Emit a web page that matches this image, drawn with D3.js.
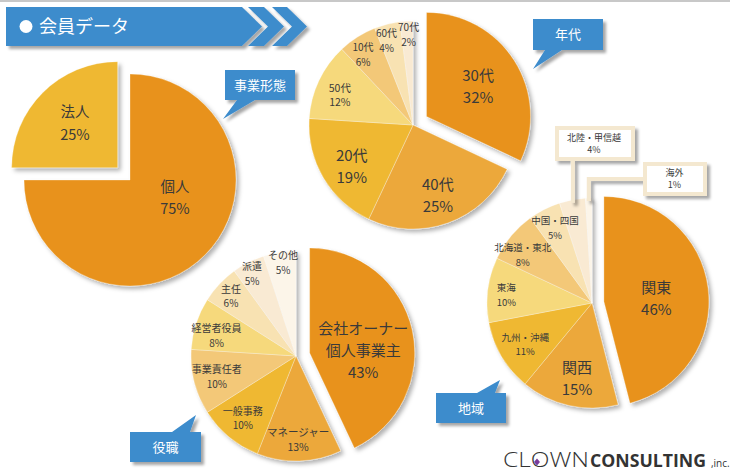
<!DOCTYPE html>
<html><head><meta charset="utf-8">
<script src="https://cdn.jsdelivr.net/npm/d3@7"></script>
<style>
html,body{margin:0;padding:0;background:#fff;}
svg{display:block;font-family:"Noto Sans CJK JP","Noto Sans",sans-serif;}
</style></head>
<body>
<svg id="chart" width="730" height="474"></svg>
<script>
// ---------------- data ----------------
const formLabels = ["個人", "法人"];
const formValues = [75, 25];

const ageLabels = ["30代", "40代", "20代", "50代", "10代", "60代", "70代"];
const ageValues = [32, 25, 19, 12, 6, 4, 2];

const roleLabels = ["会社オーナー\n個人事業主", "マネージャー", "一般事務", "事業責任者", "経営者役員", "主任", "派遣", "その他"];
const roleValues = [43, 13, 10, 10, 8, 6, 5, 5];

const regionLabels = ["関東", "関西", "九州・沖縄", "東海", "北海道・東北", "中国・四国", "北陸・甲信越", "海外"];
const regionValues = [46, 15, 11, 10, 8, 5, 4, 1];

const titleText = "会員データ";
const calloutTitles = ["事業形態", "年代", "役職", "地域"];

// ---------------- styles ----------------
const C_ORANGE = "#e8921a", C_ORANGE2 = "#eca83b", C_GOLD = "#efb832",
      C_YEL = "#f6d97b", C_TAN = "#f3c878", C_L1 = "#f8e2b2", C_L2 = "#f9ead3", C_L3 = "#fcf5e9";
const BLUE = "#3d8ccc";

const svg = d3.select("#chart");
const defs = svg.append("defs");
const sh = defs.append("filter").attr("id", "shadow").attr("x", "-20%").attr("y", "-20%").attr("width", "150%").attr("height", "150%");
sh.append("feDropShadow").attr("dx", 3).attr("dy", 3).attr("stdDeviation", 2).attr("flood-color", "#000").attr("flood-opacity", 0.3);
const sh2 = defs.append("filter").attr("id", "shadow2").attr("x", "-20%").attr("y", "-30%").attr("width", "150%").attr("height", "170%");
sh2.append("feDropShadow").attr("dx", 3).attr("dy", 3).attr("stdDeviation", 1.5).attr("flood-color", "#000").attr("flood-opacity", 0.35);

// top line
svg.append("line").attr("x1", 0).attr("x2", 730).attr("y1", 1).attr("y2", 1).attr("stroke", "#c8c8c8").attr("stroke-width", 2);

// ---------------- header banner ----------------
const hdr = svg.append("g").attr("filter", "url(#shadow2)");
const yT = 7, yM = 26.5, yB = 46;
hdr.append("path").attr("d", `M6,${yT} H242 L262,${yM} L242,${yB} H6 Z`).attr("fill", BLUE);
[[248, 16], [272, 15]].forEach(([a, w]) => {
  hdr.append("path").attr("d", `M${a},${yT} H${a + w} L${a + w + 20},${yM} L${a + w},${yB} H${a} L${a + 20},${yM} Z`).attr("fill", BLUE);
});
svg.append("circle").attr("cx", 26).attr("cy", 26.5).attr("r", 6.5).attr("fill", "#fff");
svg.append("text").attr("x", 39).attr("y", 33).attr("fill", "#fff").attr("font-size", 18).text(titleText);

// ---------------- pie helper ----------------
function drawPie(cfg) {
  const pie = d3.pie().sort(null).value(d => d)(cfg.values);
  const arc = d3.arc().innerRadius(0).outerRadius(cfg.r);
  const g = svg.append("g").attr("transform", `translate(${cfg.cx},${cfg.cy})`);
  const sg = g.append("g").attr("filter", "url(#shadow)");
  const origin = (d, i) => {
    if (i !== cfg.explodeIndex) return [0, 0];
    const a = (d.startAngle + d.endAngle) / 2;
    return [Math.sin(a) * cfg.explode, -Math.cos(a) * cfg.explode];
  };
  sg.selectAll("path").data(pie).join("path")
    .attr("d", arc)
    .attr("transform", (d, i) => `translate(${origin(d, i)})`)
    .attr("fill", (d, i) => cfg.colors[i])
    .attr("stroke", "#fff").attr("stroke-opacity", 0.5).attr("stroke-width", 0.6);
  pie.forEach((d, i) => {
    const lp = cfg.labelPos[i];
    if (!lp) return;
    const [ox, oy] = origin(d, i);
    const a = (d.startAngle + d.endAngle) / 2 + lp[1] * Math.PI / 180;
    const R = lp[0] * cfg.r;
    const x = ox + Math.sin(a) * R, y = oy - Math.cos(a) * R;
    const lines = cfg.labels[i].split("\n").concat([cfg.values[i] + "%"]);
    const fs = lp[2], lh = lp[3];
    const t = g.append("text").attr("text-anchor", "middle").attr("fill", "#3a3a3a").attr("font-size", fs);
    lines.forEach((s, j) => {
      t.append("tspan").attr("x", x).attr("y", y - (lines.length - 1) * lh / 2 + j * lh).attr("dy", "0.36em").text(s);
    });
  });
  return {pie, g};
}

// 事業形態
drawPie({cx: 130, cy: 180, r: 106, values: formValues, labels: formLabels,
  colors: [C_ORANGE, C_GOLD], explodeIndex: 1, explode: 17.5,
  labelPos: [[0.455, -23.7, 14.5, 22], [0.58, 1, 14.5, 23]]});

// 年代
drawPie({cx: 413, cy: 125, r: 104, values: ageValues, labels: ageLabels,
  colors: [C_ORANGE, C_ORANGE2, C_GOLD, C_YEL, C_TAN, C_L1, C_L2], explodeIndex: 0, explode: 16,
  labelPos: [[0.575, 2, 15, 22], [0.72, 0.4, 15, 22], [0.71, -3.3, 15, 22], [0.76, -3, 10.5, 14],
             [0.83, -3, 10, 15], [0.85, -3, 10, 15], [0.87, 0.8, 10, 15]]});

// 役職
drawPie({cx: 296, cy: 356, r: 105, values: roleValues, labels: roleLabels,
  colors: [C_ORANGE, C_ORANGE2, C_GOLD, C_TAN, C_YEL, C_L1, C_L2, C_L3], explodeIndex: 0, explode: 14,
  labelPos: [[0.51, 10.5, 15, 22], [0.8, 0.4, 10.5, 15], [0.78, 0.9, 10, 14.5], [0.78, -0.5, 10, 15],
             [0.78, -3.8, 10, 14.5], [0.84, -0.7, 10, 14.5], [0.885, -1.2, 10, 15], [0.9, 1.1, 10, 15]]});

// 地域
const reg = drawPie({cx: 592, cy: 303, r: 105, values: regionValues, labels: regionLabels,
  colors: [C_ORANGE, C_ORANGE2, C_GOLD, C_YEL, C_TAN, C_L1, C_L2, C_L3], explodeIndex: 0, explode: 12,
  labelPos: [[0.5, 4.5, 15, 22], [0.73, -1.3, 15, 22], [0.75, -1.4, 9.5, 14], [0.82, -1.6, 9.5, 15],
             [0.8, -5, 9.5, 15], [0.8, 0.9, 9.5, 15], null, null]});

// leader callouts for 北陸・甲信越 and 海外
(function () {
  const pie = reg.pie, r = 105, cx = 592, cy = 303;
  const edge = i => {
    const a = (pie[i].startAngle + pie[i].endAngle) / 2;
    return [cx + Math.sin(a) * (r - 3), cy - Math.cos(a) * (r - 3)];
  };
  const CREAM = "#f4e8d0";
  const lg = svg.append("g").attr("filter", "url(#shadow2)");
  const e6 = edge(6), e7 = edge(7);
  lg.append("path").attr("d", `M${e6[0]},${e6[1]} V159`).attr("stroke", CREAM).attr("stroke-width", 4).attr("fill", "none");
  lg.append("path").attr("d", `M${e7[0]},${e7[1]} V179 H645`).attr("stroke", CREAM).attr("stroke-width", 4).attr("fill", "none");
  lg.append("rect").attr("x", 557).attr("y", 128).attr("width", 76).attr("height", 31).attr("fill", "#fff").attr("stroke", CREAM).attr("stroke-width", 4);
  lg.append("rect").attr("x", 645).attr("y", 164).attr("width", 60).attr("height", 30).attr("fill", "#fff").attr("stroke", CREAM).attr("stroke-width", 4);
  const boxes = [[6, 594, 143.5], [7, 674.5, 179]];
  boxes.forEach(([i, x, y]) => {
    svg.append("text").attr("text-anchor", "middle").attr("fill", "#3a3a3a").attr("font-size", 9)
      .attr("x", x).attr("y", y - 6).attr("dy", "0.36em").text(regionLabels[i]);
    svg.append("text").attr("text-anchor", "middle").attr("fill", "#3a3a3a").attr("font-size", 9)
      .attr("x", x).attr("y", y + 6).attr("dy", "0.36em").text(regionValues[i] + "%");
  });
})();

// ---------------- blue callouts ----------------
function callout(x0, y0, x1, y1, b0, b1, tx, ty, bottom, label) {
  const d = bottom
    ? `M${x0},${y0} H${x1} V${y1} H${b1} L${tx},${ty} L${b0},${y1} H${x0} Z`
    : `M${x0},${y0} H${b0} L${tx},${ty} L${b1},${y0} H${x1} V${y1} H${x0} Z`;
  svg.append("path").attr("d", d).attr("fill", BLUE).attr("filter", "url(#shadow2)");
  svg.append("text").attr("x", (x0 + x1) / 2).attr("y", (y0 + y1) / 2).attr("dy", "0.36em")
    .attr("text-anchor", "middle").attr("fill", "#fff").attr("font-size", 13).text(label);
}
callout(225, 70, 295, 100, 237, 255, 223, 119, true, calloutTitles[0]);
callout(533, 19, 603, 50, 545, 562, 533, 69, true, calloutTitles[1]);
callout(130, 432, 201, 462, 172, 190, 196, 415, false, calloutTitles[2]);
callout(436, 393, 506, 423, 477, 495, 500, 380, false, calloutTitles[3]);

// ---------------- logo ----------------
const LF = "'Open Sans','DejaVu Sans',sans-serif";
svg.append("text").attr("x", 503).attr("y", 467).attr("fill", "#333").attr("font-family", LF)
  .attr("font-size", 20).attr("font-weight", 300).attr("textLength", 86).attr("lengthAdjust", "spacingAndGlyphs").text("CLOWN");
svg.append("text").attr("x", 590).attr("y", 467).attr("fill", "#333").attr("font-family", LF)
  .attr("font-size", 18).attr("font-weight", 700).attr("textLength", 116).attr("lengthAdjust", "spacingAndGlyphs").text("CONSULTING");
svg.append("text").attr("x", 711).attr("y", 467).attr("fill", "#333").attr("font-family", LF)
  .attr("font-size", 10).attr("font-weight", 400).text(",inc.");
svg.append("path").attr("d", "M537,458.5 L540,462 L537,465.5 L534,462 Z").attr("fill", "#7a3b9a");
</script>
</body></html>
